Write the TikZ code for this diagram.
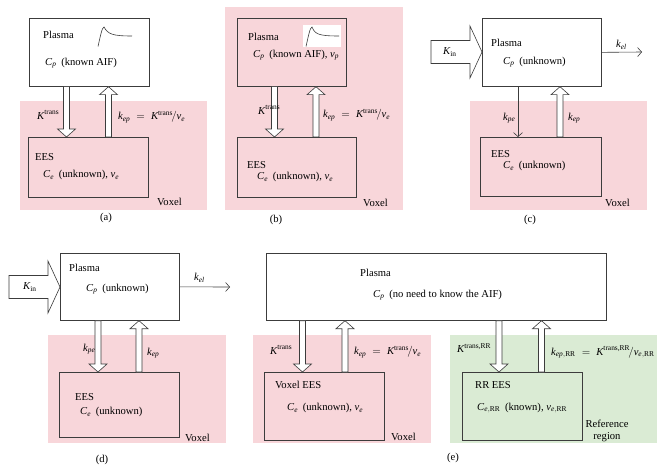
\documentclass[tikz,border=0pt]{standalone}
\usepackage{amsmath}
\usepackage{fontspec}
\setmainfont{Liberation Serif}
\usetikzlibrary{calc,arrows.meta}
\definecolor{voxpink}{HTML}{F8D6DA}
\definecolor{rrgreen}{HTML}{DAEBD4}
\definecolor{edge}{HTML}{3C3C3C}
\newcommand\mi[1]{\textit{#1}}
\newcommand\sep{\hspace{0.45em}}
\tikzset{
 boxw/.style={draw=edge, line width=0.7pt, fill=white, rectangle, inner sep=0pt, anchor=north west},
 boxc/.style={draw=edge, line width=0.7pt, rectangle, inner sep=0pt, anchor=north west},
 lbl/.style={anchor=west, inner sep=0pt, font=\fontsize{10.6}{12.5}\selectfont},
 lblc/.style={anchor=center, inner sep=0pt, font=\fontsize{10.6}{12.5}\selectfont},
 blockarr/.style={draw=edge, fill=white, line width=0.6pt, line join=miter},
 thinarr/.style={draw=edge, line width=0.6pt, -{Straight Barb[length=4pt,width=9pt]}},
}
\newcommand\vblock[2]{\draw[blockarr] let \p1=#1, \p2=#2, \p3=($(\x1,\y2)!8pt!(\x1,\y1)$) in
  (\x1-3pt,\y1) -- (\x1-3pt,\y3) -- (\x1-9pt,\y3) -- (\x1,\y2) -- (\x1+9pt,\y3) -- (\x1+3pt,\y3) -- (\x1+3pt,\y1) -- cycle;}
\newcommand\hblock[2]{\draw[blockarr] let \p1=#1, \p2=#2, \p3=($(\x2,\y1)!12pt!(\x1,\y1)$) in
  (\x1,\y1-11.5pt) -- (\x3,\y1-11.5pt) -- (\x3,\y1-26pt) -- (\x2,\y1) -- (\x3,\y1+26pt) -- (\x3,\y1+11.5pt) -- (\x1,\y1+11.5pt) -- cycle;}
\begin{document}
\begin{tikzpicture}[x=1pt,y=-1pt]
\useasboundingbox (0,0) rectangle (667,468);
% ---------- (a)
\fill[voxpink] (20,101) rectangle (207,210);
\node[boxw, minimum width=120pt, minimum height=68pt] (pa) at (29,18) {};
\node[boxc, minimum width=120pt, minimum height=60pt] (ea) at (28,137) {};
\vblock{($(pa.south west)+(37.5,0)$)}{(ea.north)}
\vblock{($(ea.north west)+(80.5,0)$)}{(pa.south)}
\draw[edge, line width=0.6pt] (98,46.5) .. controls (100,38) and (102,27) .. (104,27) .. controls (108,34) and (112,36) .. (132,36);
\node[lbl] (ta1) at (43,35) {Plasma};
\node[lbl] (ta2) at (45,63) {$\mi{C}_{\mi{p}}$\sep(known AIF)};
\node[lbl] (ta3) at (37,115) {$\mi{K}^{\text{trans}}$};
\node[lbl] (ta4) at (118,117) {$\mi{k}_{\mi{ep}} \;=\; \mi{K}^{\text{trans}}\!/\mi{v}_{\mi{e}}$};
\node[lbl] (ta5) at (35,157) {EES};
\node[lbl] (ta6) at (43,175) {$\mi{C}_{\mi{e}}$\sep(unknown), $\mi{v}_{\mi{e}}$};
\node[lbl] (ta7) at (157,202) {Voxel};
\node[lblc] (ta8) at (106,218) {(a)};
% ---------- (b)
\fill[voxpink] (225,7) rectangle (403,210);
\node[boxc, minimum width=109pt, minimum height=68pt] (pb) at (237,18) {};
\node[boxc, minimum width=119pt, minimum height=60pt] (eb) at (237,137) {};
\vblock{($(pb.south west)+(37.5,0)$)}{(eb.north)}
\vblock{($(eb.north west)+(79,0)$)}{(pb.south)}
\fill[white] (303,25) rectangle (341,47);
\draw[edge, line width=0.6pt] (306,46.5) .. controls (308,38) and (310,27) .. (312,27) .. controls (315,34) and (318,36) .. (339,36);
\node[lbl] (tb1) at (248,37) {Plasma};
\node[lbl] (tb2) at (253,55) {$\mi{C}_{\mi{p}}$\sep(known AIF), $\mi{v}_{\mi{p}}$};
\node[lbl] (tb3) at (258,110) {$\mi{K}^{\text{trans}}$};
\node[lbl] (tb4) at (323,115) {$\mi{k}_{\mi{ep}} \;=\; \mi{K}^{\text{trans}}\!/\mi{v}_{\mi{e}}$};
\node[lbl] (tb5) at (247,165) {EES};
\node[lbl] (tb6) at (257,177) {$\mi{C}_{\mi{e}}$\sep(unknown), $\mi{v}_{\mi{e}}$};
\node[lbl] (tb7) at (363,203) {Voxel};
\node[lblc] (tb8) at (276,220) {(b)};
% ---------- (c)
\fill[voxpink] (470,101) rectangle (647,210);
\node[boxw, minimum width=119pt, minimum height=68pt] (pc) at (482,18) {};
\node[boxc, minimum width=121pt, minimum height=59pt] (ec) at (480,137) {};
\coordinate (kinc) at (431,52);
\coordinate (kelc) at (642,52);
\coordinate (kpec) at ($(pc.south west)+(36,0)$);
\hblock{(kinc)}{(pc.west)}
\draw[thinarr] (pc.east) -- (kelc);
\draw[thinarr] (kpec) -- (kpec |- ec.north);
\vblock{($(ec.north west)+(80,0)$)}{(pc.south)}
\node[lbl] (tc1) at (491,43) {Plasma};
\node[lbl] (tc2) at (503,62) {$\mi{C}_{\mi{p}}$\sep(unknown)};
\node[lbl] (tc3) at (443,52) {$\mi{K}_{\text{in}}$};
\node[lbl] (tc4) at (616,45) {$\mi{k}_{\mi{el}}$};
\node[lbl] (tc5) at (503,118) {$\mi{k}_{\mi{pe}}$};
\node[lbl] (tc6) at (568,118) {$\mi{k}_{\mi{ep}}$};
\node[lbl] (tc7) at (491,154) {EES};
\node[lbl] (tc8) at (503,166) {$\mi{C}_{\mi{e}}$\sep(unknown)};
\node[lbl] (tc9) at (605,203) {Voxel};
\node[lblc] (tc10) at (530,220) {(c)};
% ---------- (d)
\fill[voxpink] (48,335) rectangle (226,443);
\node[boxw, minimum width=119pt, minimum height=67pt] (pd) at (60,253) {};
\node[boxc, minimum width=120pt, minimum height=65pt] (ed) at (59,372) {};
\coordinate (kind) at (9,287);
\coordinate (keld) at (230,287);
\hblock{(kind)}{(pd.west)}
\draw[thinarr] (pd.east) -- (keld);
\vblock{($(pd.south west)+(38,0)$)}{(ed.north)}
\vblock{($(ed.north west)+(80,0)$)}{(pd.south)}
\node[lbl] (td1) at (69,268) {Plasma};
\node[lbl] (td2) at (86,289) {$\mi{C}_{\mi{p}}$\sep(unknown)};
\node[lbl] (td3) at (23,287) {$\mi{K}_{\text{in}}$};
\node[lbl] (td4) at (194,278) {$\mi{k}_{\mi{el}}$};
\node[lbl] (td5) at (83,349) {$\mi{k}_{\mi{pe}}$};
\node[lbl] (td6) at (147,353) {$\mi{k}_{\mi{ep}}$};
\node[lbl] (td7) at (75,397) {EES};
\node[lbl] (td8) at (80,412) {$\mi{C}_{\mi{e}}$\sep(unknown)};
\node[lbl] (td9) at (185,438) {Voxel};
\node[lblc] (td10) at (102,460) {(d)};
% ---------- (e)
\fill[voxpink] (253,335) rectangle (431,443);
\fill[rrgreen] (450,335) rectangle (657,443);
\node[boxw, minimum width=340pt, minimum height=67pt] (pe) at (266,253) {};
\node[boxc, minimum width=120pt, minimum height=68pt] (ee) at (264,372) {};
\node[boxc, minimum width=120pt, minimum height=68pt] (rr) at (462,372) {};
\vblock{($(pe.south west)+(36.5,0)$)}{(ee.north)}
\vblock{($(ee.north west)+(81,0)$)}{(pe.south)}
\vblock{($(pe.south west)+(233,0)$)}{(rr.north)}
\vblock{($(rr.north west)+(79.5,0)$)}{(pe.south)}
\node[lbl] (te1) at (360,273) {Plasma};
\node[lbl] (te2) at (373,295) {$\mi{C}_{\mi{p}}$\sep(no need to know the AIF)};
\node[lbl] (te3) at (270,350) {$\mi{K}^{\text{trans}}$};
\node[lbl] (te4) at (354,352) {$\mi{k}_{\mi{ep}} \;=\; \mi{K}^{\text{trans}}\!/\mi{v}_{\mi{e}}$};
\node[lbl] (te5) at (275,385) {Voxel EES};
\node[lbl] (te6) at (287,408) {$\mi{C}_{\mi{e}}$\sep(unknown), $\mi{v}_{\mi{e}}$};
\node[lbl] (te7) at (391,437) {Voxel};
\node[lbl] (te8) at (457,348) {$\mi{K}^{\text{trans,RR}}$};
\node[lbl] (te9) at (551,352) {$\mi{k}_{\mi{ep},\text{RR}} \;=\; \mi{K}^{\text{trans,RR}}\!/\mi{v}_{\mi{e},\text{RR}}$};
\node[lbl] (te10) at (475,385) {RR EES};
\node[lbl] (te11) at (477,408) {$\mi{C}_{\mi{e},\text{RR}}$\sep(known), $\mi{v}_{\mi{e},\text{RR}}$};
\node[lblc, align=center] (te12) at (607,431) {Reference\\region};
\node[lblc] (te13) at (453,458) {(e)};
\end{tikzpicture}
\end{document}
